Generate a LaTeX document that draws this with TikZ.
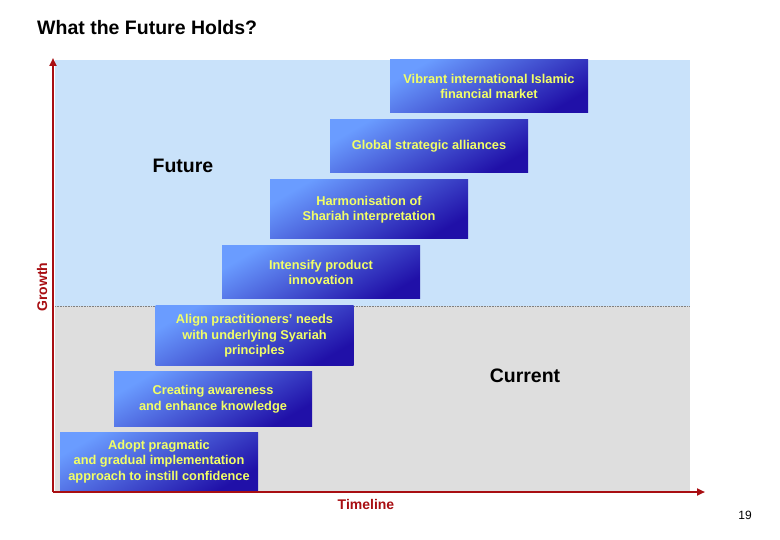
\documentclass[tikz,border=0pt]{standalone}
\usepackage{fontspec}
\setmainfont{Liberation Sans}
\usetikzlibrary{arrows.meta}
\definecolor{skyreg}{HTML}{C9E2FA}
\definecolor{greyreg}{HTML}{DEDEDE}
\definecolor{axisred}{HTML}{A80E12}
\definecolor{boxlight}{HTML}{6A9CFF}
\definecolor{boxdark}{HTML}{2010A8}
\definecolor{boxtext}{HTML}{F2FF66}
\tikzset{
  stepbox/.style={rectangle, inner sep=0pt, minimum width=198pt, top color=boxlight, bottom color=boxdark, shading angle=30, text=boxtext, font=\fontsize{12.8}{15.5}\selectfont\bfseries, align=center},
  bigtxt/.style={font=\fontsize{19.5}{22}\selectfont\bfseries, text=black, inner sep=0pt},
  axislbl/.style={font=\fontsize{14}{16}\selectfont\bfseries, text=axisred, inner sep=0pt},
  axisline/.style={draw=axisred, line width=2pt, -{Triangle[length=8pt,width=7pt]}}
}
\begin{document}
\begin{tikzpicture}[x=1pt,y=-1pt]
\useasboundingbox (0,0) rectangle (780,540);
\fill[white] (0,0) rectangle (780,540);
% regions
\fill[skyreg] (55,60) rectangle (690,306);
\fill[greyreg] (55,306) rectangle (690,491);
\draw[gray, densely dotted, line width=0.6pt] (55,306) -- (690,306);
% title
\node[anchor=west, font=\fontsize{19.5}{22}\selectfont\bfseries, inner sep=0pt] (title) at (37,28) {What the Future Holds?};
% boxes
\node[stepbox, minimum height=53pt] (b1) at (489,86.5) {Vibrant international Islamic\\financial market};
\node[stepbox, minimum height=53pt] (b2) at (429,146.5) {Global strategic alliances};
\node[stepbox, minimum height=59pt] (b3) at (369,209.5) {Harmonisation of\\Shariah interpretation};
\node[stepbox, minimum height=53pt] (b4) at (321,272.5) {Intensify product\\innovation};
\node[stepbox, minimum height=60pt] (b5) at (254.5,336) {Align practitioners' needs\\with underlying Syariah\\principles};
\node[stepbox, minimum height=54pt] (b6) at (213,399) {Creating awareness\\and enhance knowledge};
\node[stepbox, minimum height=59pt] (b7) at (159,461.5) {Adopt pragmatic\\and gradual implementation\\approach to instill confidence};
% labels
\node[bigtxt] (future) at (183,166) {Future};
\node[bigtxt] (current) at (525,376) {Current};
% axes
\coordinate (origin) at (53,492);
\coordinate (ytop) at (53,58);
\coordinate (xend) at (705,492);
\draw[axisline] (origin) -- (ytop);
\draw[axisline] (origin) -- (xend);
\node[axislbl, rotate=90] (growth) at (42,287) {Growth};
\node[axislbl] (timeline) at (366,504) {Timeline};
\node[font=\fontsize{12}{14}\selectfont, inner sep=0pt] (page) at (745,515) {19};
\end{tikzpicture}
\end{document}
